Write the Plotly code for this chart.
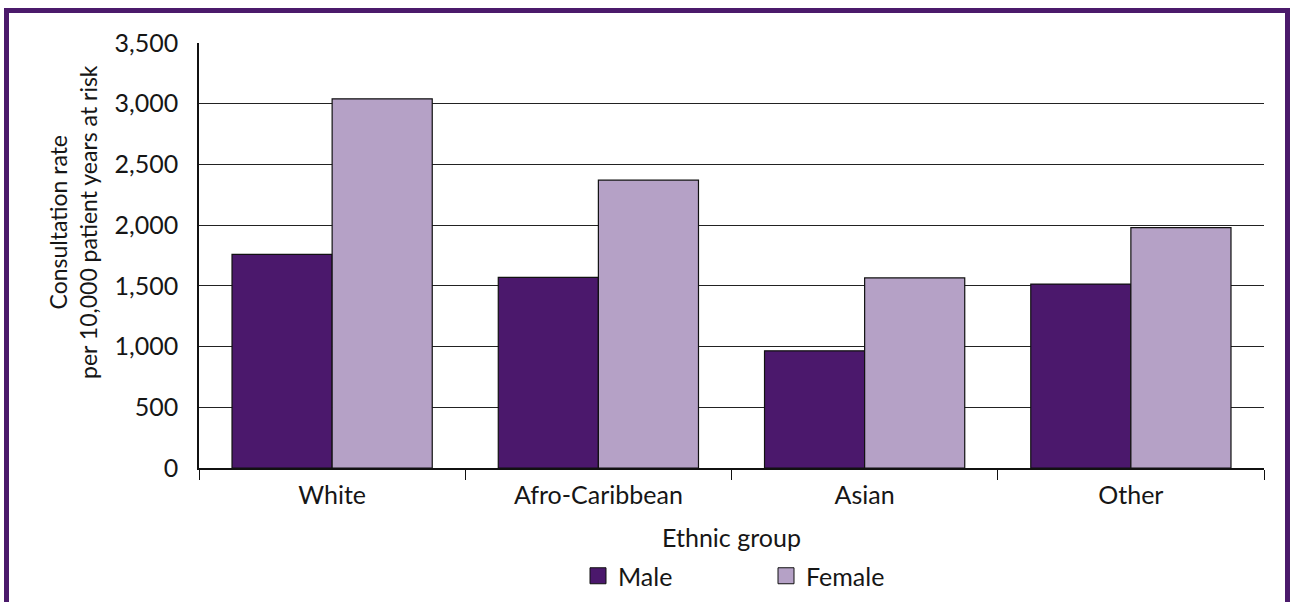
import plotly.graph_objects as go

categories = ["White", "Afro-Caribbean", "Asian", "Other"]
male = [1760, 1570, 965, 1515]
female = [3040, 2370, 1565, 1980]
series_names = ["Male", "Female"]
y_ticks = [0, 500, 1000, 1500, 2000, 2500, 3000, 3500]
y_tick_labels = ["0", "500", "1,000", "1,500", "2,000", "2,500", "3,000", "3,500"]
x_title = "Ethnic group"
y_title = "Consultation rate<br>per 10,000 patient years at risk"

MALE_C = "#4B186C"
FEMALE_C = "#B5A1C6"
BORDER_C = "#4B1A6B"
TXT = "#161616"
FONT = "Lato, 'Open Sans', sans-serif"

W, H = 1290, 602
L, R, T, B = 199, 26, 43, 134
pw, ph = W - L - R, H - T - B


def px2x(p):
    return (p - L) / pw


def py2y(p):
    return (H - B - p) / ph


fig = go.Figure()
for name, vals, col in [(series_names[0], male, MALE_C), (series_names[1], female, FEMALE_C)]:
    fig.add_trace(go.Bar(x=categories, y=vals, name=name, showlegend=False,
                         marker=dict(color=col, line=dict(color="#111111", width=1.2))))
# legend entries (larger square swatches)
for name, col in [(series_names[0], MALE_C), (series_names[1], FEMALE_C)]:
    fig.add_trace(go.Scatter(x=[None], y=[None], mode="markers", name=name,
                             marker=dict(symbol="square", size=16, color=col,
                                         line=dict(color="#111111", width=1))))

shapes = [
    dict(type="line", xref="paper", yref="paper", x0=px2x(4), x1=px2x(1290), y0=py2y(10.5), y1=py2y(10.5),
         line=dict(color=BORDER_C, width=5)),
    dict(type="line", xref="paper", yref="paper", x0=px2x(6.5), x1=px2x(6.5), y0=py2y(8), y1=py2y(602),
         line=dict(color=BORDER_C, width=5)),
    dict(type="line", xref="paper", yref="paper", x0=px2x(1287.5), x1=px2x(1287.5), y0=py2y(8), y1=py2y(602),
         line=dict(color=BORDER_C, width=5)),
]

fig.update_layout(
    width=W, height=H,
    margin=dict(l=L, r=R, t=T, b=B, autoexpand=False),
    paper_bgcolor="white", plot_bgcolor="white",
    font=dict(family=FONT, size=25, color=TXT),
    barmode="group", bargap=0.248, bargroupgap=0,
    shapes=shapes,
    showlegend=True,
    legend=dict(orientation="h", x=px2x(578), xanchor="left", y=py2y(576), yanchor="middle",
                font=dict(size=25), entrywidth=143, entrywidthmode="pixels",
                bgcolor="rgba(0,0,0,0)", itemsizing="trace"),
    annotations=[dict(text=y_title, textangle=-90, xref="paper", yref="paper",
                      x=px2x(73), y=py2y(222), xanchor="center", yanchor="middle",
                      showarrow=False, font=dict(size=23, color=TXT))],
    xaxis=dict(
        title=dict(text=x_title, standoff=22, font=dict(size=25)),
        showline=True, linecolor="#111111", linewidth=1.5,
        ticks="outside", tickson="boundaries", ticklen=10, tickcolor="#111111",
        ticklabelstandoff=4,
        showgrid=False, tickfont=dict(size=25),
    ),
    yaxis=dict(
        range=[0, 3500], tickvals=y_ticks, ticktext=y_tick_labels,
        showline=True, linecolor="#111111", linewidth=1.5,
        showgrid=True, gridcolor="#222222", gridwidth=1.2,
        ticks="", ticklabelstandoff=14, zeroline=False,
        tickfont=dict(size=25),
    ),
)

fig.write_html("out.html", config={"displayModeBar": False},
               post_script="document.body.style.margin='0';")
